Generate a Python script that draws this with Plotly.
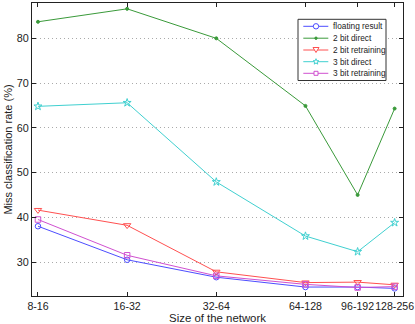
import plotly.graph_objects as go
import math

categories = ["8-16", "16-32", "32-64", "64-128", "96-192", "128-256"]
lower_sizes = [8, 16, 32, 64, 96, 128]

floating = [38.0, 30.5, 26.6, 24.4, 24.4, 24.1]
two_bit_direct = [83.7, 86.6, 80.0, 64.9, 45.0, 64.3]
two_bit_retrain = [41.6, 38.2, 27.8, 25.4, 25.5, 24.9]
three_bit_direct = [64.8, 65.6, 47.9, 35.8, 32.3, 38.8]
three_bit_retrain = [39.5, 31.5, 26.9, 25.0, 24.3, 24.5]

series_names = ["floating result", "2 bit direct", "2 bit retraining",
                "3 bit direct", "3 bit retraining"]
y_ticks = [30, 40, 50, 60, 70, 80]

xs = [math.log2(v) for v in lower_sizes]

W, H = 415, 324
ML, MR, MT, MB = 32, 12, 3, 28
PW, PH = W - ML - MR, H - MT - MB

colors = ["#4d4dff", "#3a9a3a", "#ff5050", "#40d0d0", "#d050d0"]
symbols = ["circle-open", "circle", "triangle-down-open", "star-open", "square-open"]
sizes = [5.5, 3, 6.5, 6, 5.5]
data = [floating, two_bit_direct, two_bit_retrain, three_bit_direct, three_bit_retrain]

fig = go.Figure()
for name, vals, col, sym, sz in zip(series_names, data, colors, symbols, sizes):
    fig.add_trace(go.Scatter(
        x=xs, y=vals, name=name, mode="lines+markers", showlegend=False,
        line=dict(color=col, width=1),
        marker=dict(symbol=sym, size=sz, color=col, line=dict(color=col, width=1)),
    ))

def px_x(p):
    return (p - ML) / PW

def px_y(p):
    return (H - MB - p) / PH

shapes = []
annotations = []
# legend box
shapes.append(dict(type="rect", xref="paper", yref="paper",
                   x0=px_x(298), x1=px_x(386), y0=px_y(80.5), y1=px_y(19.3),
                   fillcolor="white", line=dict(color="#333", width=1), layer="above"))
item_ys = [26.3, 38.2, 50.0, 61.7, 73.3]
marker_paths = [
    None,
    None,
    "M -3 2.5 L 3 2.5 L 0 -2.5 Z",
    None,
    "M -2 -2 L 2 -2 L 2 2 L -2 2 Z",
]
for i, (name, col) in enumerate(zip(series_names, colors)):
    yy = px_y(item_ys[i])
    shapes.append(dict(type="line", xref="paper", yref="paper",
                       x0=px_x(303.3), x1=px_x(328.3), y0=yy, y1=yy,
                       line=dict(color=col, width=1), layer="above"))
    cx = px_x(316)
    if i == 0:
        shapes.append(dict(type="circle", xref="paper", yref="paper",
                           xsizemode="pixel", ysizemode="pixel", xanchor=cx, yanchor=yy,
                           x0=-2.7, x1=2.7, y0=-2.7, y1=2.7,
                           line=dict(color=col, width=1), fillcolor="white", layer="above"))
    elif i == 1:
        shapes.append(dict(type="circle", xref="paper", yref="paper",
                           xsizemode="pixel", ysizemode="pixel", xanchor=cx, yanchor=yy,
                           x0=-1.2, x1=1.2, y0=-1.2, y1=1.2,
                           line=dict(color=col, width=1), fillcolor=col, layer="above"))
    elif i == 3:
        pts = []
        for k in range(10):
            r = 3.0 if k % 2 == 0 else 1.3
            a = math.pi / 2 + k * math.pi / 5
            pts.append((r * math.cos(a), r * math.sin(a)))
        path = "M " + " L ".join(f"{x:.2f} {y:.2f}" for x, y in pts) + " Z"
        shapes.append(dict(type="path", xref="paper", yref="paper",
                           xsizemode="pixel", ysizemode="pixel", xanchor=cx, yanchor=yy,
                           path=path, line=dict(color=col, width=1), fillcolor="white",
                           layer="above"))
    else:
        shapes.append(dict(type="path", xref="paper", yref="paper",
                           xsizemode="pixel", ysizemode="pixel", xanchor=cx, yanchor=yy,
                           path=marker_paths[i], line=dict(color=col, width=1),
                           fillcolor="white", layer="above"))
    annotations.append(dict(xref="paper", yref="paper", x=px_x(331), y=yy,
                            xanchor="left", yanchor="middle", showarrow=False,
                            text=name, font=dict(size=8.3, color="#222")))

fig.update_layout(
    width=W, height=H,
    margin=dict(l=ML, r=MR, t=MT, b=MB, autoexpand=False),
    paper_bgcolor="white", plot_bgcolor="white",
    font=dict(family="Liberation Sans, Arial, sans-serif", size=11, color="#222"),
    showlegend=False,
    hovermode=False,
    shapes=shapes,
    annotations=annotations,
)
fig.update_xaxes(
    range=[2.933, 7.094], tickvals=xs, ticktext=categories, tickangle=0,
    ticks="inside", ticklen=4, tickcolor="#222", tickfont=dict(size=10.6),
    showline=True, linecolor="#222", linewidth=1, mirror="ticks",
    showgrid=False, zeroline=False, automargin=False,
    title=dict(text="Size of the network", standoff=2, font=dict(size=11.4)),
)
fig.update_yaxes(
    range=[22.4, 87.9], tickvals=y_ticks,
    ticks="inside", ticklen=4, tickcolor="#222", tickfont=dict(size=10.8),
    showline=True, linecolor="#222", linewidth=1, mirror="ticks",
    showgrid=True, gridcolor="#aaaaaa", griddash="1px,3px", gridwidth=1,
    zeroline=False, automargin=False,
    title=dict(text="Miss classification rate (%)", standoff=1, font=dict(size=11)),
)

fig.write_html("out.html", config={"displayModeBar": False, "staticPlot": True},
               post_script="document.body.style.margin='0';")
